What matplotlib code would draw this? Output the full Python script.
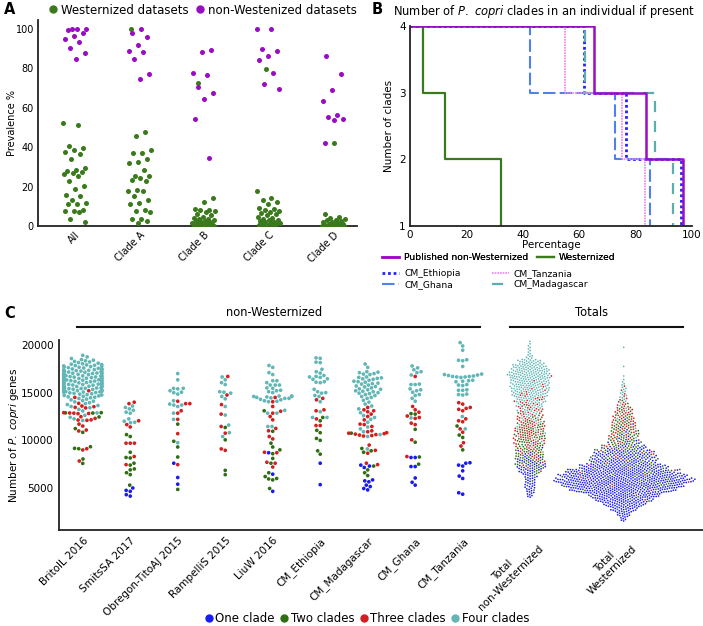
import numpy as np
import matplotlib
matplotlib.use("Agg")
import matplotlib.pyplot as plt
from matplotlib.lines import Line2D

plt.rcParams['font.family'] = ['DejaVu Sans']
plt.rcParams['mathtext.fontset'] = 'dejavusans'

W, H, DPI = 703, 626, 100
fig = plt.figure(figsize=(W / DPI, H / DPI), dpi=DPI)


def add_axes_px(left, top, right, bottom):
    return fig.add_axes([left / W, 1 - bottom / H, (right - left) / W, (bottom - top) / H])


def fx(x):
    return x / W


def fy(y):
    return 1 - y / H


# ---------------------------------------------------------------- colours
GREEN_A = '#3a7a1c'
PURPLE_A = '#9a0cc4'
C_ONE = '#1a1af5'
C_TWO = '#2f6e14'
C_THREE = '#d21f1f'
C_FOUR = '#62b6b6'

# ---------------------------------------------------------------- panel A data
a_categories = ['All', 'Clade A', 'Clade B', 'Clade C', 'Clade D']
west_all = [52.3, 51.1, 40.6, 39.7, 38.7, 37.4, 36.5, 33.8, 29.6, 28.6, 28.1, 27.5, 26.9, 26.6, 25.4,
            22.7, 20.3, 18.9, 15.5, 15.1, 13.2, 11.8, 11.3, 11.0, 8.0, 7.8, 7.6, 7.3, 3.6, 1.9]
nonwest_all = [100, 100, 100, 99.6, 98.0, 96.5, 95.0, 93.5, 90.5, 87.8, 84.6]
west_A = [99.8, 47.9, 45.7, 38.7, 37.2, 37.0, 34.0, 32.6, 31.8, 28.3, 25.5, 25.4, 24.4, 23.2, 22.7,
          18.5, 17.9, 17.8, 15.4, 13.0, 11.8, 11.2, 8.0, 7.8, 7.0, 3.6, 3.6, 2.7, 1.7]
nonwest_A = [99.8, 98.1, 96.0, 91.7, 88.7, 88.5, 84.9, 77.0, 74.6]
west_B = [72.6, 14.2, 12.4, 8.5, 8.3, 8.0, 7.6, 7.0, 6.3, 5.5, 4.8, 4.2, 3.8, 3.4, 3.0, 2.7, 2.4,
          2.1, 1.8, 1.5, 1.2, 1.0, 0.8, 0.6, 0.4, 0.3, 0.2, 0.1, 0.0, 0.0]
nonwest_B = [89.2, 88.5, 77.5, 76.5, 70.6, 67.7, 64.4, 54.2, 34.7]
west_C = [79.7, 17.8, 14.1, 13.0, 12.2, 11.2, 9.0, 8.6, 8.1, 7.4, 7.0, 6.6, 6.2, 5.6, 4.8, 4.2, 3.7,
          3.2, 2.8, 2.5, 2.2, 1.9, 1.6, 1.3, 1.0, 0.8, 0.5, 0.3, 0.1, 0.0]
nonwest_C = [99.8, 99.8, 89.7, 88.7, 86.1, 84.3, 77.5, 72.0, 69.7]
west_D = [42.0, 6.1, 4.5, 4.0, 3.6, 3.2, 2.8, 2.4, 2.1, 1.8, 1.5, 1.2, 1.0, 0.8, 0.6, 0.4, 0.3, 0.2,
          0.1, 0.0, 0.0, 0.0, 0.0, 0.0, 0.0, 0.0, 0.0, 0.0, 0.0, 0.0]
nonwest_D = [86.3, 77.0, 69.0, 63.6, 56.5, 55.3, 54.2, 54.0, 42.1]

# ---------------------------------------------------------------- panel B data
b_series = ['Published non-Westernized', 'Westernized', 'CM_Ethiopia', 'CM_Ghana',
            'CM_Tanzania', 'CM_Madagascar']
b_cum_four = [65.2, 4.5, 61.6, 42.6, 55.0, 62.0]     # % with 4 clades
b_cum_three = [83.8, 12.4, 76.7, 72.7, 75.0, 86.9]   # % with >=3 clades
b_cum_two = [96.8, 32.1, 96.0, 85.1, 83.3, 93.3]     # % with >=2 clades

# ---------------------------------------------------------------- panel C data
c_groups = ['BritoIL 2016', 'SmitsSA 2017', 'Obregon-TitoAJ 2015', 'RampelliS 2015', 'LiuW 2016',
            'CM_Ethiopia', 'CM_Madagascar', 'CM_Ghana', 'CM_Tanzania']
c_totals = ['Total\nnon-Westernized', 'Total\nWesternized']
clade_labels = ['One clade', 'Two clades', 'Three clades', 'Four clades']

brito_one = []
brito_two = [12900, 12880, 12860, 12450, 11230, 10840, 9330, 9160, 9120, 8040, 7580]
brito_three = [15200, 14500, 13880, 13600, 13530, 13460, 13400, 12900, 12870, 12850, 12820, 12800,
               12480, 12300, 12150, 12130, 12100, 11700, 11500, 11080, 10980, 9120, 8990, 7830]
# four-clade BritoIL samples are very numerous: counts per 500-gene bin from 12000
brito_four_bin_start = 12000
brito_four_counts = [3, 2, 3, 5, 7, 11, 20, 22, 22, 22, 20, 14, 8, 3]

smits_one = [5000, 4750, 4650, 4300, 4150]
smits_two = [10600, 10400, 8750, 8200, 8150, 7600, 7400, 7000, 6900, 6600, 6400, 5300]
smits_three = [14000, 13850, 12050, 11650, 11400, 9700, 9700, 9700, 8300, 7450]
smits_four = [13600, 13450, 13300, 13150, 12950, 12850, 12250, 12000, 11900, 11850]

obregon_one = [7600, 6100, 5400]
obregon_two = [11700, 9900, 9300, 8250, 4850]
obregon_three = [14100, 13850, 13850, 13100, 12850, 12200, 10700, 7450]
obregon_four = [17000, 16350, 15450, 15450, 15400, 15200, 15050, 15000, 14850, 14150, 13800, 13700,
                13700, 13550, 12850, 12200, 9750]

rampelli_one = []
rampelli_two = [11350, 10050, 6850, 6400]
rampelli_three = [16700, 14750, 13750, 12750, 11450, 10750, 9100, 8950]
rampelli_four = [16650, 16350, 16050, 15850, 15100, 15050, 14950, 14600, 14350, 13550, 12650,
                 11600, 10800, 10400]

liu_one = [8700, 6450, 4650]
liu_two = [13100, 10950, 9700, 9300, 9000, 8600, 8100, 7600, 6600, 6200, 6000, 5950, 5850, 4950]
liu_three = [14500, 14050, 13550, 13050, 12850, 12500, 12150, 11250, 11000, 10400, 10150, 8750,
             8700, 7700, 7600, 7200]
liu_four = [17850, 17650, 17100, 16900, 16250, 16250, 16050, 15800, 15800, 15800, 15500, 15450,
            15250, 15200, 15100, 15000, 14650, 14650, 14600, 14600, 14550, 14500, 14450, 14400,
            14400, 14300, 14250, 14150, 14100, 14050, 13150, 12850, 12850, 11450, 11450]

ethiopia_one = [7600, 5350]
ethiopia_two = [12400, 12050, 11050, 10800, 10200, 10000, 8900, 8550]
ethiopia_three = [14400, 14250, 13200, 13100, 12250, 11550, 11550]
ethiopia_four = [18650, 18600, 18200, 18150, 17450, 17200, 17050, 16800, 16700, 16650, 16600,
                 16450, 16400, 16150, 16100, 16050, 15350, 15100, 15000, 14950, 14700, 14600,
                 14050, 13000, 12400, 12400]

madagascar_one = [7400, 7300, 7150, 5850, 5750, 5650, 5300, 5150, 4950, 4800]
madagascar_two = [10750, 9150, 8900, 8750, 7300, 6900, 6600, 6300]
madagascar_three = [13450, 13200, 13100, 13000, 12750, 12500, 12150, 11700, 11650, 11450, 11000,
                    10900, 10800, 10750, 10700, 10650, 10600, 10550, 10500, 10450, 9500, 8950,
                    8650, 7600, 7450]
madagascar_four = [18000, 17650, 17200, 17150, 17100, 17000, 16950, 16900, 16650, 16600, 16550,
                   16500, 16450, 16400, 16300, 16200, 16150, 16100, 16000, 15950, 15900, 15800,
                   15700, 15650, 15600, 15500, 15400, 15350, 15300, 15200, 15150, 15100, 15000,
                   14950, 14900, 14800, 14700, 14600, 14500, 14400, 14200, 14000, 13800, 13600,
                   13300, 12900, 12600, 12400, 12200, 11900, 11400, 11200, 10900, 10600, 10400,
                   9100]

ghana_one = [8200, 8200, 7250, 7250, 6050, 5600, 5300]
ghana_two = [12800, 12750, 11150, 9800, 8250, 7500]
ghana_three = [16700, 13550, 13200, 12950, 12550, 12400, 12300, 11800, 11650, 10050, 8300]
ghana_four = [17800, 17600, 17400, 17200, 17100, 16850, 15900, 15850, 15850, 15400, 15300, 15200,
              15050, 14800, 14700, 14400, 14100, 12350]

tanzania_one = [7650, 7600, 7400, 7300, 6800, 6250, 6000, 4500, 4350]
tanzania_two = [11500, 10550, 10300, 9000]
tanzania_three = [13950, 13800, 13450, 13350, 13250, 13100, 12250, 12050, 11950, 11200, 10850,
                  9750, 9400]
tanzania_four = [20250, 19900, 19450, 18450, 18400, 18350, 17750, 16950, 16900, 16850, 16800,
                 16750, 16700, 16700, 16650, 16650, 16600, 16300, 16250, 16200, 16150, 15850,
                 15800, 15750, 15300, 15250, 15250, 14850, 14800, 14750, 12500, 11200]

# Totals: number of samples per 500-gene bin, bins starting at 1500
tot_bin_start = 1500
tot_bin_width = 500
tn_one = [0, 0, 0, 0, 0, 6, 7, 8, 8, 9, 12, 13, 10, 6, 3, 1, 1, 0, 0, 0,
          0, 0, 0, 0, 0, 0, 0, 0, 0, 0, 0, 0, 0, 0, 0, 0, 0, 0]
tn_two = [0, 0, 0, 0, 0, 0, 1, 1, 1, 2, 6, 10, 11, 12, 12, 12, 11, 11, 10, 9,
          7, 4, 2, 1, 1, 1, 0, 0, 0, 0, 0, 0, 0, 0, 0, 0, 0, 0]
tn_three = [0, 0, 0, 0, 0, 0, 0, 0, 0, 0, 1, 2, 4, 6, 7, 8, 10, 12, 13, 13,
            11, 10, 9, 9, 8, 6, 5, 3, 2, 1, 1, 0, 0, 0, 0, 0, 0, 0]
tn_four = [0, 0, 0, 0, 0, 0, 0, 0, 0, 0, 0, 0, 0, 0, 1, 1, 2, 3, 3, 4,
           5, 7, 8, 10, 13, 18, 25, 28, 30, 31, 36, 33, 29, 20, 6, 3, 3, 2]
tw_one = [6, 12, 21, 33, 47, 58, 82, 97, 109, 97, 81, 60, 42, 37, 31, 15, 6, 3, 2, 2,
          1, 1, 0, 0, 0, 0, 0, 0, 0, 0, 0, 0, 0, 0, 0, 0, 0, 0]
tw_two = [0, 0, 1, 2, 2, 3, 5, 7, 9, 10, 13, 12, 11, 12, 14, 17, 15, 13, 12, 10,
          9, 7, 5, 4, 2, 1, 0, 0, 0, 0, 0, 0, 0, 0, 0, 0, 0, 0]
tw_three = [0, 0, 0, 0, 1, 1, 1, 2, 2, 2, 2, 2, 2, 3, 4, 5, 5, 7, 8, 8,
            9, 9, 9, 8, 5, 3, 2, 1, 1, 0, 0, 0, 0, 0, 0, 0, 0, 0]
tw_four = [0, 0, 0, 0, 0, 0, 0, 0, 0, 0, 0, 0, 0, 0, 0, 0, 0, 1, 1, 1,
           1, 1, 1, 2, 2, 3, 4, 4, 3, 2, 1, 0, 1, 0, 0, 0, 1, 0]


# ---------------------------------------------------------------- helpers
def golden_jitter(n, width, phase=0.0):
    return ((np.arange(n) * 0.6180339887 + phase) % 1.0 - 0.5) * 2 * width


def expand_bins(count_lists, start, width):
    """turn per-bin counts of each clade class into (value, class) samples"""
    vals, cls = [], []
    nb = len(count_lists[0])
    for b in range(nb):
        lo = start + b * width
        items = []
        for k, cl in enumerate(count_lists):
            c = cl[b]
            for m in range(c):
                items.append(((m + 0.5) / c, k))
        items.sort()
        n = len(items)
        for j, (_, k) in enumerate(items):
            vals.append(lo + (j + 0.5) / n * width)
            cls.append(k)
    return vals, cls


def beeswarm(y, d):
    n = len(y)
    order = np.argsort(y, kind='stable')
    xs = np.zeros(n)
    px = np.zeros(n)
    py = np.zeros(n)
    k = 0
    start = 0
    for idx in order:
        yi = y[idx]
        while start < k and py[start] < yi - d:
            start += 1
        nx = px[start:k]
        ny = py[start:k]
        if k - start == 0:
            xi = 0.0
        else:
            dy = ny - yi
            dx = np.sqrt(np.maximum(d * d - dy * dy, 0.0))
            cands = np.concatenate(([0.0], nx - dx, nx + dx))
            cands = cands[np.argsort(np.abs(cands), kind='stable')]
            dist2 = (cands[:, None] - nx[None, :]) ** 2 + dy[None, :] ** 2
            ok = np.all(dist2 >= d * d * 0.999, axis=1)
            xi = cands[np.argmax(ok)]
        px[k] = xi
        py[k] = yi
        k += 1
        xs[idx] = xi
    return xs


# ================================================================ panel A
axA = add_axes_px(38, 20, 357, 226)
west_lists = [west_all, west_A, west_B, west_C, west_D]
nonwest_lists = [nonwest_all, nonwest_A, nonwest_B, nonwest_C, nonwest_D]
for i, wv in enumerate(west_lists):
    axA.scatter(i + golden_jitter(len(wv), 0.18, 0.13 * i), wv, s=13, color=GREEN_A,
                linewidths=0, zorder=3)
for i, nv in enumerate(nonwest_lists):
    axA.scatter(i + golden_jitter(len(nv), 0.18, 0.37 + 0.21 * i), nv, s=13, color=PURPLE_A,
                linewidths=0, zorder=4)
axA.set_xlim(-0.57, 4.37)
axA.set_ylim(0, 104.6)
axA.set_yticks([0, 20, 40, 60, 80, 100])
axA.set_xticks(range(len(a_categories)))
axA.set_xticklabels(a_categories, rotation=45, ha='right', va='top', rotation_mode='anchor')
axA.tick_params(length=0, labelsize=7, pad=3)
axA.set_ylabel('Prevalence %', fontsize=7, labelpad=-1)
for s in ['top', 'right']:
    axA.spines[s].set_visible(False)
for s in ['left', 'bottom']:
    axA.spines[s].set_linewidth(1.3)
    axA.spines[s].set_color('#222222')

a_handles = [Line2D([], [], marker='o', ls='', color=GREEN_A, ms=5),
             Line2D([], [], marker='o', ls='', color=PURPLE_A, ms=5)]
fig.legend(a_handles, ['Westernized datasets', 'non-Westenized datasets'], loc='center',
           bbox_to_anchor=(fx(202), fy(10)), ncol=2, frameon=False, fontsize=8.5,
           handletextpad=0.15, columnspacing=0.5, handlelength=1.0, borderpad=0,
           borderaxespad=0)

# ================================================================ panel B
axB = add_axes_px(410, 26, 692, 226)
b_styles = [
    dict(color='#9a0cc4', lw=1.8, ls='-', zorder=6),
    dict(color='#3a7a1c', lw=1.6, ls='-', zorder=5),
    dict(color='#2222ff', lw=2.0, ls=(0, (1, 1)), zorder=3),
    dict(color='#4f80ee', lw=1.5, ls=(0, (6, 2)), zorder=3),
    dict(color='#ee82ee', lw=1.2, ls=(0, (1, 0.6)), zorder=4),
    dict(color='#5aaeae', lw=1.6, ls=(0, (5, 4)), zorder=3),
]
b_lines = []
for name, c4, c3, c2, st in zip(b_series, b_cum_four, b_cum_three, b_cum_two, b_styles):
    ln, = axB.plot([0, c4, c4, c3, c3, c2, c2], [4, 4, 3, 3, 2, 2, 1], label=name, **st)
    b_lines.append(ln)
axB.set_xlim(0, 100)
axB.set_ylim(1, 4)
axB.set_yticks([1, 2, 3, 4])
axB.set_xticks([0, 20, 40, 60, 80, 100])
axB.tick_params(length=0, labelsize=7.5, pad=3)
axB.set_xlabel('Percentage', fontsize=7.5, labelpad=0)
axB.set_ylabel('Number of clades', fontsize=7.5, labelpad=4)
for s in ['top', 'right']:
    axB.spines[s].set_visible(False)
for s in ['left', 'bottom']:
    axB.spines[s].set_linewidth(1.3)
    axB.spines[s].set_color('#222222')
    axB.spines[s].set_zorder(7)
fig.text(fx(393), fy(11), r'Number of $\it{P.\ copri}$ clades in an individual if present',
         fontsize=8.3, ha='left', va='center')

leg1 = fig.legend(b_lines[:2], b_series[:2], loc='center left', bbox_to_anchor=(fx(382), fy(258)),
                  ncol=2, frameon=False, fontsize=6.6, handlelength=1.9, handletextpad=0.5,
                  columnspacing=0.9, borderpad=0, borderaxespad=0)
fig.add_artist(leg1)
fig.legend([b_lines[2], b_lines[3], b_lines[4], b_lines[5]],
           [b_series[2], b_series[3], b_series[4], b_series[5]],
           loc='center left', bbox_to_anchor=(fx(382), fy(279)), ncol=2, frameon=False,
           fontsize=6.6, handlelength=1.9, handletextpad=0.5, columnspacing=3.4,
           labelspacing=0.25, borderpad=0, borderaxespad=0)

# ================================================================ panel C
C_LEFT, C_TOP, C_RIGHT, C_BOTTOM = 59, 340, 703, 530
axC = add_axes_px(C_LEFT, C_TOP, C_RIGHT, C_BOTTOM)
C_XLIM = (-0.5, 13.06)
C_YLIM = (594, 20524)
px_per_x = (C_RIGHT - C_LEFT) / (C_XLIM[1] - C_XLIM[0])
px_per_y = (C_BOTTOM - C_TOP) / (C_YLIM[1] - C_YLIM[0])
clade_colors = np.array([C_ONE, C_TWO, C_THREE, C_FOUR])

brito_four_vals, _ = expand_bins([brito_four_counts], brito_four_bin_start, 500)
group_data = [
    (brito_one, brito_two, brito_three, brito_four_vals),
    (smits_one, smits_two, smits_three, smits_four),
    (obregon_one, obregon_two, obregon_three, obregon_four),
    (rampelli_one, rampelli_two, rampelli_three, rampelli_four),
    (liu_one, liu_two, liu_three, liu_four),
    (ethiopia_one, ethiopia_two, ethiopia_three, ethiopia_four),
    (madagascar_one, madagascar_two, madagascar_three, madagascar_four),
    (ghana_one, ghana_two, ghana_three, ghana_four),
    (tanzania_one, tanzania_two, tanzania_three, tanzania_four),
]
positions = list(range(len(c_groups))) + [9.42, 11.39]

D_GROUP = 4.2      # swarm spacing in pixels
HALF_W = 0.4 * px_per_x
for pos, lists in zip(positions, group_data):
    vals = np.concatenate([np.asarray(l, float) for l in lists])
    cls = np.concatenate([np.full(len(l), k) for k, l in enumerate(lists)]).astype(int)
    ypx = (vals - C_YLIM[0]) * px_per_y
    off = beeswarm(ypx, D_GROUP)
    off = np.clip(off, -HALF_W, HALF_W)
    axC.scatter(pos + off / px_per_x, vals, s=7.0, c=clade_colors[cls], linewidths=0, zorder=3)

D_TOT = 2.4
for pos, lists in zip(positions[-2:], [(tn_one, tn_two, tn_three, tn_four),
                                        (tw_one, tw_two, tw_three, tw_four)]):
    vals, cls = expand_bins(list(lists), tot_bin_start, tot_bin_width)
    vals = np.asarray(vals, float)
    cls = np.asarray(cls, int)
    ypx = (vals - C_YLIM[0]) * px_per_y
    off = beeswarm(ypx, D_TOT)
    axC.scatter(pos + off / px_per_x, vals, s=1.5, c=clade_colors[cls], linewidths=0, zorder=3)

axC.set_xlim(*C_XLIM)
axC.set_ylim(*C_YLIM)
axC.set_yticks([5000, 10000, 15000, 20000])
axC.set_xticks(positions)
axC.set_xticklabels(c_groups + c_totals, rotation=45, ha='right', va='top',
                    rotation_mode='anchor', multialignment='center')
axC.tick_params(length=0, labelsize=7.5, pad=4)
axC.set_ylabel(r'Number of $\it{P.\ copri}$ genes', fontsize=7.5, labelpad=0)
for s in ['top', 'right']:
    axC.spines[s].set_visible(False)
for s in ['left', 'bottom']:
    axC.spines[s].set_linewidth(1.3)
    axC.spines[s].set_color('#222222')

# group headers
fig.add_artist(Line2D([fx(77), fx(480)], [fy(327), fy(327)], color='#111111', lw=1.5))
fig.add_artist(Line2D([fx(510), fx(683)], [fy(327), fy(327)], color='#111111', lw=1.5))
fig.text(fx(274), fy(313), 'non-Westernized', fontsize=8.3, ha='center', va='center')
fig.text(fx(592), fy(313), 'Totals', fontsize=8.3, ha='center', va='center')

c_handles = [Line2D([], [], marker='o', ls='', color=c, ms=5)
             for c in [C_ONE, C_TWO, C_THREE, C_FOUR]]
fig.legend(c_handles, clade_labels, loc='center', bbox_to_anchor=(fx(366), fy(619)), ncol=4,
           frameon=False, fontsize=8.5, handletextpad=0.05, columnspacing=0.3,
           handlelength=1.0, borderpad=0, borderaxespad=0)

# panel letters
fig.text(fx(4), fy(10), 'A', fontsize=10.5, fontweight='bold', ha='left', va='center')
fig.text(fx(372), fy(10), 'B', fontsize=10.5, fontweight='bold', ha='left', va='center')
fig.text(fx(4), fy(313), 'C', fontsize=10.5, fontweight='bold', ha='left', va='center')

fig.savefig('out.png', dpi=DPI)
